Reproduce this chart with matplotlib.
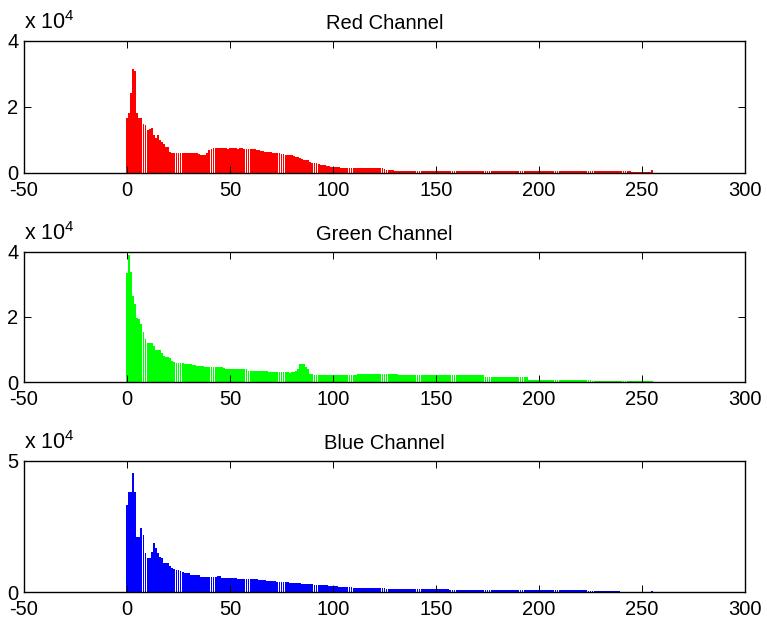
import numpy as np
import matplotlib
matplotlib.use('Agg')
import matplotlib.pyplot as plt

# Intensity levels 0..255 and histogram counts (in units of 10^4)
levels = np.arange(256)

red = [
    1.66, 1.81, 2.41, 3.15, 3.10, 1.81, 1.66, 1.66, 1.50, 1.45, 1.30, 1.32, 1.35, 1.15, 1.05, 1.15,
    1.00, 0.95, 0.88, 0.80, 0.78, 0.65, 0.60, 0.60, 0.61, 0.60, 0.60, 0.60, 0.61, 0.60, 0.60, 0.60,
    0.60, 0.61, 0.60, 0.58, 0.55, 0.55, 0.56, 0.62, 0.70, 0.74, 0.75, 0.75, 0.75, 0.76, 0.75, 0.75,
    0.75, 0.74, 0.75, 0.75, 0.76, 0.75, 0.74, 0.75, 0.75, 0.74, 0.73, 0.73, 0.72, 0.73, 0.72, 0.71,
    0.70, 0.67, 0.66, 0.65, 0.65, 0.64, 0.63, 0.61, 0.60, 0.60, 0.60, 0.59, 0.58, 0.56, 0.55, 0.55,
    0.54, 0.52, 0.49, 0.48, 0.45, 0.42, 0.40, 0.39, 0.38, 0.33, 0.31, 0.31, 0.30, 0.28, 0.25, 0.24,
    0.24, 0.22, 0.20, 0.19, 0.19, 0.19, 0.18, 0.17, 0.15, 0.15, 0.16, 0.15, 0.15, 0.15, 0.15, 0.16,
    0.15, 0.15, 0.15, 0.15, 0.15, 0.16, 0.15, 0.15, 0.15, 0.14, 0.15, 0.15, 0.14, 0.11, 0.10, 0.09,
    0.09, 0.08, 0.06, 0.06, 0.06, 0.06, 0.06, 0.06, 0.06, 0.06, 0.06, 0.06, 0.06, 0.06, 0.06, 0.06,
    0.06, 0.06, 0.06, 0.05, 0.06, 0.06, 0.06, 0.06, 0.06, 0.06, 0.06, 0.06, 0.05, 0.06, 0.06, 0.06,
    0.06, 0.06, 0.06, 0.06, 0.06, 0.06, 0.05, 0.06, 0.06, 0.06, 0.06, 0.06, 0.06, 0.06, 0.06, 0.06,
    0.06, 0.05, 0.06, 0.06, 0.06, 0.06, 0.06, 0.06, 0.06, 0.06, 0.05, 0.06, 0.06, 0.06, 0.06, 0.06,
    0.06, 0.06, 0.06, 0.06, 0.06, 0.05, 0.06, 0.06, 0.06, 0.06, 0.06, 0.06, 0.06, 0.06, 0.06, 0.05,
    0.06, 0.06, 0.06, 0.06, 0.06, 0.06, 0.06, 0.05, 0.06, 0.06, 0.06, 0.06, 0.06, 0.06, 0.06, 0.06,
    0.06, 0.06, 0.05, 0.06, 0.06, 0.06, 0.06, 0.06, 0.06, 0.06, 0.06, 0.05, 0.06, 0.06, 0.06, 0.06,
    0.06, 0.06, 0.06, 0.06, 0.06, 0.03, 0.03, 0.03, 0.03, 0.03, 0.03, 0.03, 0.03, 0.03, 0.02, 0.08,
]

green = [
    3.34, 3.90, 3.40, 2.65, 2.40, 1.96, 1.93, 1.78, 1.55, 1.31, 1.21, 1.21, 1.21, 1.10, 1.00, 1.00,
    0.98, 0.88, 0.80, 0.77, 0.76, 0.73, 0.66, 0.63, 0.60, 0.60, 0.60, 0.59, 0.55, 0.55, 0.55, 0.55,
    0.52, 0.52, 0.49, 0.49, 0.49, 0.50, 0.45, 0.45, 0.45, 0.45, 0.45, 0.45, 0.45, 0.45, 0.45, 0.44,
    0.39, 0.39, 0.39, 0.39, 0.39, 0.39, 0.39, 0.39, 0.39, 0.39, 0.39, 0.35, 0.35, 0.35, 0.35, 0.35,
    0.35, 0.35, 0.35, 0.35, 0.35, 0.30, 0.30, 0.30, 0.30, 0.30, 0.30, 0.30, 0.30, 0.30, 0.30, 0.27,
    0.31, 0.31, 0.35, 0.39, 0.55, 0.55, 0.55, 0.47, 0.40, 0.24, 0.24, 0.21, 0.21, 0.21, 0.21, 0.21,
    0.21, 0.21, 0.21, 0.21, 0.21, 0.21, 0.21, 0.21, 0.21, 0.21, 0.21, 0.21, 0.21, 0.21, 0.21, 0.21,
    0.25, 0.25, 0.25, 0.25, 0.25, 0.25, 0.25, 0.25, 0.25, 0.25, 0.25, 0.25, 0.25, 0.25, 0.25, 0.25,
    0.25, 0.25, 0.25, 0.25, 0.22, 0.22, 0.22, 0.22, 0.22, 0.22, 0.22, 0.22, 0.22, 0.22, 0.22, 0.22,
    0.22, 0.22, 0.22, 0.22, 0.22, 0.22, 0.22, 0.22, 0.22, 0.22, 0.22, 0.22, 0.22, 0.22, 0.22, 0.22,
    0.22, 0.22, 0.22, 0.22, 0.22, 0.22, 0.22, 0.22, 0.22, 0.22, 0.22, 0.22, 0.22, 0.22, 0.14, 0.14,
    0.14, 0.14, 0.14, 0.16, 0.16, 0.16, 0.16, 0.16, 0.16, 0.16, 0.16, 0.16, 0.16, 0.16, 0.16, 0.16,
    0.16, 0.16, 0.16, 0.06, 0.06, 0.06, 0.06, 0.06, 0.06, 0.06, 0.06, 0.06, 0.06, 0.05, 0.05, 0.05,
    0.05, 0.05, 0.05, 0.05, 0.05, 0.05, 0.05, 0.05, 0.05, 0.05, 0.05, 0.05, 0.05, 0.05, 0.05, 0.05,
    0.05, 0.05, 0.04, 0.04, 0.04, 0.04, 0.04, 0.04, 0.04, 0.04, 0.04, 0.04, 0.04, 0.04, 0.04, 0.04,
    0.04, 0.03, 0.03, 0.03, 0.03, 0.03, 0.03, 0.03, 0.03, 0.03, 0.03, 0.03, 0.03, 0.02, 0.02, 0.02,
]

blue = [
    3.32, 3.83, 3.83, 4.53, 3.83, 2.10, 2.10, 2.43, 2.17, 1.48, 1.28, 1.28, 1.54, 1.86, 1.67, 1.48,
    1.35, 1.30, 1.10, 1.09, 1.09, 1.00, 0.90, 0.87, 0.84, 0.84, 0.80, 0.78, 0.71, 0.74, 0.74, 0.65,
    0.65, 0.65, 0.65, 0.65, 0.59, 0.59, 0.59, 0.59, 0.59, 0.59, 0.59, 0.59, 0.61, 0.61, 0.53, 0.53,
    0.53, 0.53, 0.53, 0.53, 0.53, 0.53, 0.48, 0.48, 0.48, 0.48, 0.48, 0.48, 0.48, 0.48, 0.48, 0.48,
    0.46, 0.45, 0.45, 0.44, 0.43, 0.43, 0.42, 0.42, 0.41, 0.40, 0.40, 0.39, 0.38, 0.38, 0.37, 0.36,
    0.35, 0.35, 0.34, 0.33, 0.33, 0.32, 0.31, 0.31, 0.30, 0.30, 0.29, 0.28, 0.28, 0.28, 0.27, 0.27,
    0.26, 0.25, 0.24, 0.23, 0.22, 0.22, 0.21, 0.20, 0.20, 0.19, 0.19, 0.18, 0.18, 0.18, 0.17, 0.17,
    0.17, 0.16, 0.16, 0.16, 0.15, 0.15, 0.15, 0.15, 0.15, 0.14, 0.14, 0.14, 0.14, 0.14, 0.13, 0.13,
    0.13, 0.13, 0.12, 0.12, 0.12, 0.12, 0.12, 0.11, 0.11, 0.11, 0.11, 0.11, 0.11, 0.10, 0.10, 0.10,
    0.10, 0.10, 0.10, 0.10, 0.10, 0.10, 0.10, 0.10, 0.10, 0.10, 0.10, 0.10, 0.10, 0.09, 0.09, 0.09,
    0.09, 0.09, 0.09, 0.09, 0.09, 0.09, 0.09, 0.09, 0.08, 0.08, 0.08, 0.08, 0.08, 0.08, 0.08, 0.08,
    0.08, 0.07, 0.07, 0.07, 0.07, 0.07, 0.07, 0.07, 0.07, 0.07, 0.07, 0.07, 0.07, 0.07, 0.07, 0.07,
    0.07, 0.07, 0.07, 0.07, 0.07, 0.07, 0.07, 0.07, 0.06, 0.06, 0.06, 0.06, 0.06, 0.06, 0.06, 0.06,
    0.06, 0.06, 0.06, 0.06, 0.06, 0.06, 0.06, 0.06, 0.06, 0.06, 0.06, 0.06, 0.06, 0.06, 0.06, 0.06,
    0.05, 0.05, 0.05, 0.05, 0.05, 0.05, 0.05, 0.05, 0.05, 0.05, 0.05, 0.05, 0.05, 0.05, 0.05, 0.04,
    0.01, 0.01, 0.01, 0.01, 0.01, 0.01, 0.01, 0.01, 0.01, 0.01, 0.01, 0.01, 0.01, 0.01, 0.01, 0.02,
]

titles = ['Red Channel', 'Green Channel', 'Blue Channel']
bar_colors = ['#ff0000', '#00ff00', '#0000ff']
y_max = [4, 4, 5]
y_ticks = [[0, 2, 4], [0, 2, 4], [0, 5]]
x_ticks = [-50, 0, 50, 100, 150, 200, 250, 300]

plt.rcParams['font.family'] = ['Liberation Sans', 'DejaVu Sans']
plt.rcParams['mathtext.default'] = 'regular'

W, H = 767, 620
fig = plt.figure(figsize=(W / 100, H / 100), dpi=100)

# axes boxes in pixels: (left, top, right, bottom)
boxes = [(24, 41, 745, 173), (24, 252, 745, 382), (24, 461, 745, 592)]

for vals, title, col, ym, yt, (l, t, r, b) in zip(
        [red, green, blue], titles, bar_colors, y_max, y_ticks, boxes):
    ax = fig.add_axes([l / W, 1 - b / H, (r - l) / W, (b - t) / H])
    ax.bar(levels, vals, width=0.9, color=col, edgecolor='none', linewidth=0)
    ax.set_xlim(-50, 300)
    ax.set_ylim(0, ym)
    ax.set_xticks(x_ticks)
    ax.set_xticklabels([str(v) for v in x_ticks])
    ax.set_yticks(yt)
    ax.set_yticklabels([str(v) for v in yt])
    ax.tick_params(direction='in', top=True, right=True, length=5, width=0.7,
                   labelsize=14.5, colors='black')
    ax.tick_params(axis='x', pad=6)
    ax.tick_params(axis='y', pad=4)
    for s in ax.spines.values():
        s.set_linewidth(1.0)
        s.set_color('black')
    ax.set_title(title, fontsize=14.5, pad=8.5)
    ax.annotate(r'x 10$^{4}$', xy=(0, 1), xycoords='axes fraction',
                xytext=(0, 5), textcoords='offset points',
                ha='left', va='bottom', fontsize=15.5)

fig.savefig('out.png', dpi=100)
